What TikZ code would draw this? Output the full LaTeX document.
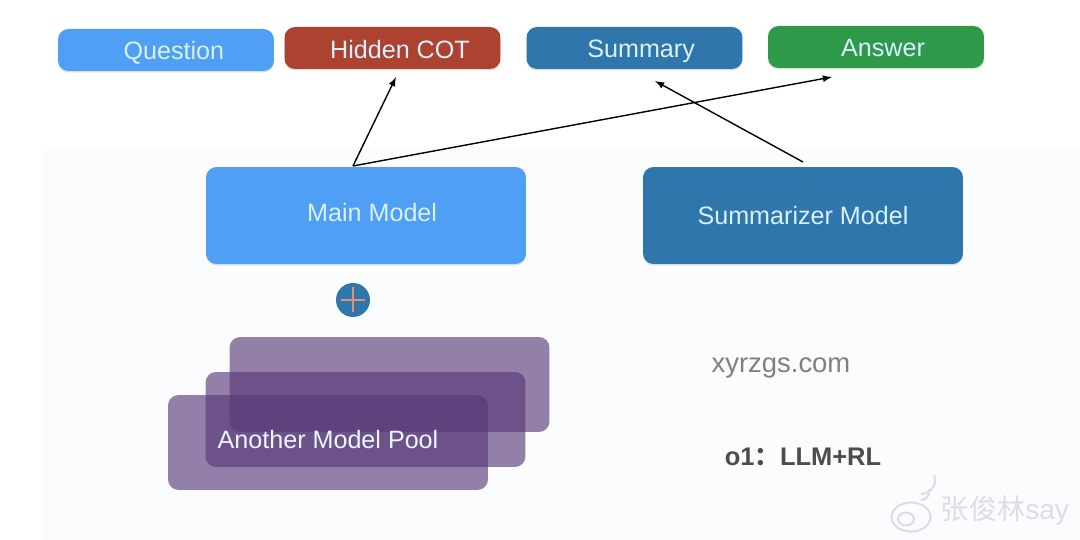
\documentclass[tikz,border=0pt]{standalone}
\usepackage{fontspec}
\setmainfont{Liberation Sans}
\newfontfamily\cjk{Noto Sans CJK SC}
\usetikzlibrary{shadows}
\definecolor{skyblue}{HTML}{4F9FF5}
\definecolor{brickred}{HTML}{AE4231}
\definecolor{steelblue}{HTML}{2F76AC}
\definecolor{leafgreen}{HTML}{2E9A49}
\definecolor{poolpurple}{HTML}{573878}
\definecolor{labelwhite}{HTML}{D9F1FF}
\definecolor{panelblue}{HTML}{FBFCFE}
\definecolor{markgray}{HTML}{DCDEE2}
\definecolor{plusorange}{HTML}{E58F70}
\tikzset{
    boxnode/.style={rounded corners=6pt,inner sep=0pt,text=labelwhite,text depth=0pt,
        font=\fontsize{14.3}{16}\selectfont,
        drop shadow={shadow xshift=0pt,shadow yshift=-0.8pt,opacity=.25}},
    topbox/.style={boxnode,minimum width=4.32cm,minimum height=0.84cm},
    modelbox/.style={boxnode,minimum width=6.4cm,minimum height=1.94cm},
    poolbox/.style={rounded corners=6pt,fill=poolpurple,fill opacity=.63,
        minimum width=6.4cm,minimum height=1.9cm,inner sep=0pt},
    flow/.style={->,>=latex,thick,black}
}
\begin{document}
\begin{tikzpicture}[x=0.02cm,y=-0.02cm]
                \useasboundingbox (0,0) rectangle (1080,540);
                \fill[white] (0,0) rectangle (1080,540);
                \fill[panelblue] (42,147) rectangle (1080,540);
                % top row
                \node[topbox,fill=skyblue,text height=10.8pt] (question) at (166,50) {\hspace*{9pt}Question};
                \node[topbox,fill=brickred,text height=12.5pt] (cot) at (392.5,48) {\hspace*{8.5pt}Hidden COT};
                \node[topbox,fill=steelblue,text height=11.3pt] (summary) at (634.5,48) {\hspace*{7.5pt}Summary};
                \node[topbox,fill=leafgreen,text height=11.3pt] (answer) at (876,47) {\hspace*{8pt}Answer};
                % models
                \node[modelbox,fill=skyblue,text height=7.2pt] (main) at (366,215.5) {\hspace*{7pt}Main Model};
                \node[modelbox,fill=steelblue,text height=10.8pt] (summarizer) at (803,215.5) {Summarizer Model};
                % plus sign
                \node[circle,fill=steelblue,minimum size=0.68cm,inner sep=0pt] (plus) at (353,300) {};
                \draw[plusorange,line width=1.7pt] ([xshift=-0.25cm]plus.center) -- ([xshift=0.25cm]plus.center);
                \draw[plusorange,line width=1.7pt] ([yshift=-0.25cm]plus.center) -- ([yshift=0.25cm]plus.center);
                % pool
                \node[poolbox] (poolc) at (389.5,384.5) {};
                \node[poolbox] (poolb) at (365.5,419.5) {};
                \node[poolbox] (poola) at (328,442.5) {};
                \node[text=labelwhite!60!white,font=\fontsize{14.3}{16}\selectfont] (poollabel) at (328,440) {Another Model Pool};
                % arrows
                \coordinate (mainout) at (353,166);
                \coordinate (summout) at (803,162);
                \coordinate (cotin) at (396,77);
                \coordinate (ansin) at (832,77);
                \coordinate (sumin) at (655,81);
                \draw[flow] (mainout) -- (cotin);
                \draw[flow] (mainout) -- (ansin);
                \draw[flow] (summout) -- (sumin);
                % right side texts
                \node[text=black!50,font=\fontsize{15.6}{18}\selectfont] (site) at (781,368) {xyrzgs.com};
                \node[text=black!70,font=\bfseries\fontsize{14.5}{16}\selectfont] (formula) at (803,456.5) {o1{\cjk ：}LLM+RL};
                % watermark
                \node[text=markgray,font=\fontsize{16}{18}\selectfont] (mark) at (1005,511) {{\cjk 张俊林}say};
                \draw[markgray,line width=1.2pt] (911,517) ellipse (0.39cm and 0.29cm);
                \draw[markgray,line width=1.2pt] (906,519) ellipse (0.16cm and 0.13cm);
                \draw[markgray,line width=1.2pt] (921,500) arc (-90:20:0.16cm);
                \draw[markgray,line width=1.2pt] (921,494) arc (-90:20:0.28cm);
\end{tikzpicture}
\end{document}
